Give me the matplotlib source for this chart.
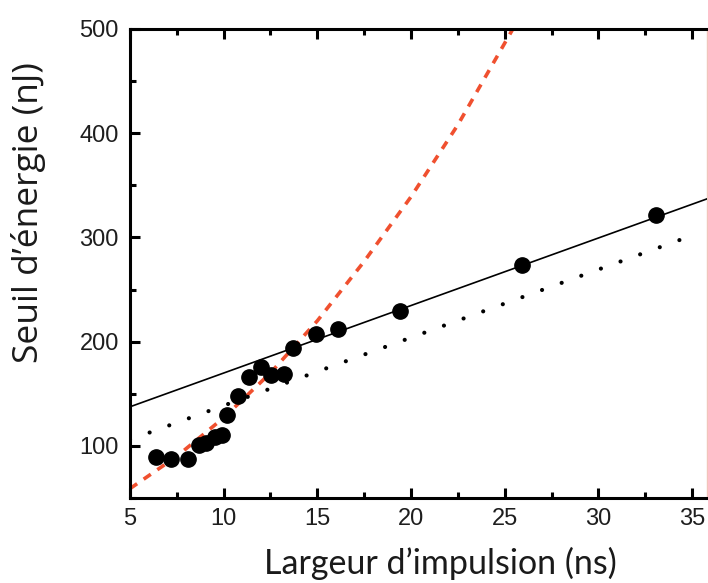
import matplotlib
matplotlib.use("Agg")
import matplotlib.pyplot as plt
from matplotlib.ticker import MultipleLocator

# measured points: pulse width (ns) vs energy threshold (nJ)
largeur = [6.4, 7.2, 8.1, 8.7, 9.05, 9.55, 9.9, 10.2, 10.75, 11.35, 12.0,
           12.55, 13.2, 13.7, 14.95, 16.1, 19.4, 25.95, 33.1]
seuil = [89.5, 87.5, 87.5, 101, 102.5, 109, 110, 129.5, 148, 166, 175.5,
         168, 169, 194, 207.5, 212, 229, 273.5, 321.5]

# solid linear fit (end points)
fit_x = [5, 35.8]
fit_y = [137.5, 337]

# dotted line
dot_x = [5, 35.1]
dot_y = [106, 302.5]

# red dashed curve, points read along it
rouge_x = [5, 7.5, 10, 12.5, 15, 17.5, 20, 22.5, 25.5]
rouge_y = [59, 90, 127, 170, 220, 277, 339, 408, 502]

fig = plt.figure(figsize=(7.08, 5.83), dpi=100)
ax = fig.add_axes([0.1836, 0.1458, 0.8150, 0.8045])

ax.plot(rouge_x, rouge_y, color="#f0502f", lw=2.6, linestyle=(0, (2.4, 2.2)), zorder=2)
ax.plot(dot_x, dot_y, color="black", lw=3.0, linestyle=(0, (0.01, 5.0)),
        dash_capstyle="round", zorder=2)
ax.plot(fit_x, fit_y, color="black", lw=1.2, zorder=3)
ax.plot(largeur, seuil, "o", color="black", markersize=11, zorder=4)

ax.set_xlim(5, 35.8)
ax.set_ylim(50, 500)
ax.xaxis.set_major_locator(MultipleLocator(5))
ax.xaxis.set_minor_locator(MultipleLocator(2.5))
ax.yaxis.set_major_locator(MultipleLocator(100))
ax.yaxis.set_minor_locator(MultipleLocator(50))
ax.set_yticks([100, 200, 300, 400, 500])

for side in ["left", "bottom", "top"]:
    ax.spines[side].set_linewidth(2.2)
ax.spines["right"].set_linewidth(1.0)
ax.spines["right"].set_color("#f2c4ba")

ax.tick_params(which="major", direction="in", length=7, width=2.2,
               top=True, right=False, labelsize=17, labelcolor="#1e1e1e")
ax.tick_params(which="minor", direction="in", length=4.5, width=2.2,
               top=True, right=False)
ax.tick_params(axis="x", which="major", pad=7)
ax.tick_params(axis="y", which="major", pad=8)
for lab in ax.get_xticklabels() + ax.get_yticklabels():
    lab.set_fontfamily("Liberation Sans")

fig.text(440 / 708, 1 - 563 / 583, "Largeur d\u2019impulsion (ns)", fontsize=24.5,
         family="Lato", ha="center", va="center", color="#1a1a1a")
fig.text(29 / 708, 1 - 213 / 583, "Seuil d\u2019\u00e9nergie (nJ)", fontsize=25.5,
         family="Open Sans", ha="center", va="center", rotation=90, color="#1a1a1a")

fig.savefig("out.png", dpi=100)
